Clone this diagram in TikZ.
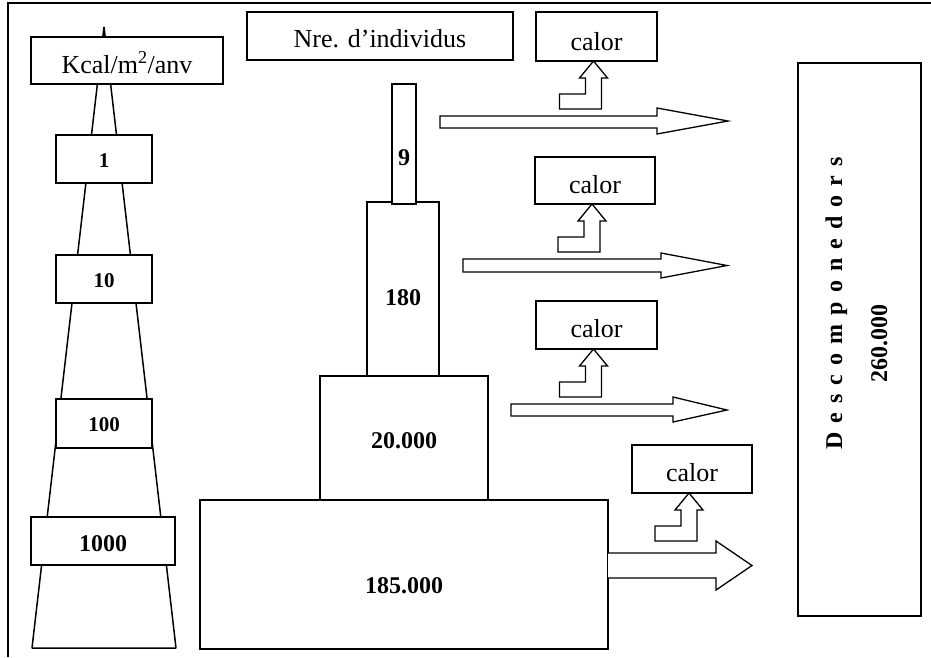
\documentclass[tikz,border=0pt]{standalone}
\usepackage{fontspec}
\setmainfont{Liberation Serif}
\newcommand{\lsp}{\hspace{9.1pt}}
\newcommand{\heatarrow}[1]{\draw[barrow] ([shift={(-3,0)}]#1.south) -- ++(14,17) -- ++(-6,0) -- ++(0,31) -- ++(-42,0) -- ++(0,-15) -- ++(26,0) -- ++(0,-16) -- ++(-6,0) -- cycle;}
\begin{document}
\begin{tikzpicture}[x=1pt,y=-1pt,
  box/.style={draw, line width=1.5pt, fill=white, rectangle, inner sep=0pt, outer sep=0pt},
  txt/.style={inner sep=0pt, anchor=base, font=\fontsize{26}{31}\selectfont},
  numb/.style={inner sep=0pt, anchor=base, font=\fontsize{24}{28}\selectfont\bfseries},
  nums/.style={inner sep=0pt, anchor=base, font=\fontsize{21}{25}\selectfont\bfseries},
  barrow/.style={draw, line width=1.3pt, fill=white, line join=miter},
  frame/.style={draw, line width=1.3pt}]
\useasboundingbox (0,0) rectangle (931,657);
% frame
\draw[frame] (931,3) -- (8,3) -- (8,657);
% energy pyramid
\draw[line width=1.5pt, line join=bevel] (104,27) -- (176,648) -- (32,648) -- cycle;
\node[box, minimum width=192pt, minimum height=47pt] (kcal) at (127,60.5) {};
\node[txt] (kcalt) at (127,73) {Kcal/m\textsuperscript{2}/anv};
\node[box, minimum width=96pt, minimum height=48pt] (e1) at (104,159) {};
\node[nums] (e1t) at (104,167) {1};
\node[box, minimum width=96pt, minimum height=48pt] (e10) at (104,279) {};
\node[nums] (e10t) at (104,287) {10};
\node[box, minimum width=96pt, minimum height=49pt] (e100) at (104,423.5) {};
\node[nums] (e100t) at (104,431) {100};
\node[box, minimum width=144pt, minimum height=48pt] (e1000) at (103,541) {};
\node[numb] (e1000t) at (103,551) {1000};
% number pyramid
\node[box, minimum width=266pt, minimum height=48pt] (nre) at (380,36) {};
\node[txt] (nret) at (380,47) {Nre. d’individus};
\node[box, minimum width=408pt, minimum height=149pt] (b185) at (404,574.5) {};
\node[numb] (b185t) at (404,593) {185.000};
\node[box, minimum width=168pt, minimum height=124pt] (b20) at (404,438) {};
\node[numb] (b20t) at (404,448) {20.000};
\node[box, minimum width=72pt, minimum height=174pt] (b180) at (403,289) {};
\node[numb] (b180t) at (403,305) {180};
\node[box, minimum width=24pt, minimum height=120pt] (b9) at (404,144) {};
\node[numb] (b9t) at (404,165) {9};
% heat boxes
\node[box, minimum width=121pt, minimum height=49pt] (c1) at (596.5,36.5) {};
\node[txt] (c1t) at (596.5,50) {calor};
\node[box, minimum width=120pt, minimum height=47pt] (c2) at (595,180.5) {};
\node[txt] (c2t) at (595,193) {calor};
\node[box, minimum width=121pt, minimum height=48pt] (c3) at (596.5,325) {};
\node[txt] (c3t) at (596.5,337) {calor};
\node[box, minimum width=120pt, minimum height=48pt] (c4) at (692,469) {};
\node[txt] (c4t) at (692,481) {calor};
\heatarrow{c1}
\heatarrow{c2}
\heatarrow{c3}
\heatarrow{c4}
% flow arrows
\draw[barrow] (440,116) -- (657,116) -- (657,108) -- (728,121) -- (657,134) -- (657,128) -- (440,128) -- cycle;
\draw[barrow] (463,259) -- (661,259) -- (661,253) -- (727,265.5) -- (661,278) -- (661,272) -- (463,272) -- cycle;
\draw[barrow] (511,404) -- (673,404) -- (673,397) -- (727,410) -- (673,422) -- (673,416) -- (511,416) -- cycle;
\draw[barrow] ([shift={(0,53)}]b185.north east) -- (716,553) -- (716,541) -- (752,565.5) -- (716,590) -- (716,578) -- ([shift={(0,78)}]b185.north east);
% decomposers
\node[box, minimum width=123pt, minimum height=553pt] (desc) at (859.5,339.5) {};
\node[numb, rotate=90] (desct) at (842,303.5) {D\lsp e\lsp s\lsp c\lsp o\lsp m\lsp p\lsp o\lsp n\lsp e\lsp d\lsp o\lsp r\lsp s};
\node[numb, rotate=90] (descn) at (887,343) {260.000};
\end{tikzpicture}
\end{document}
